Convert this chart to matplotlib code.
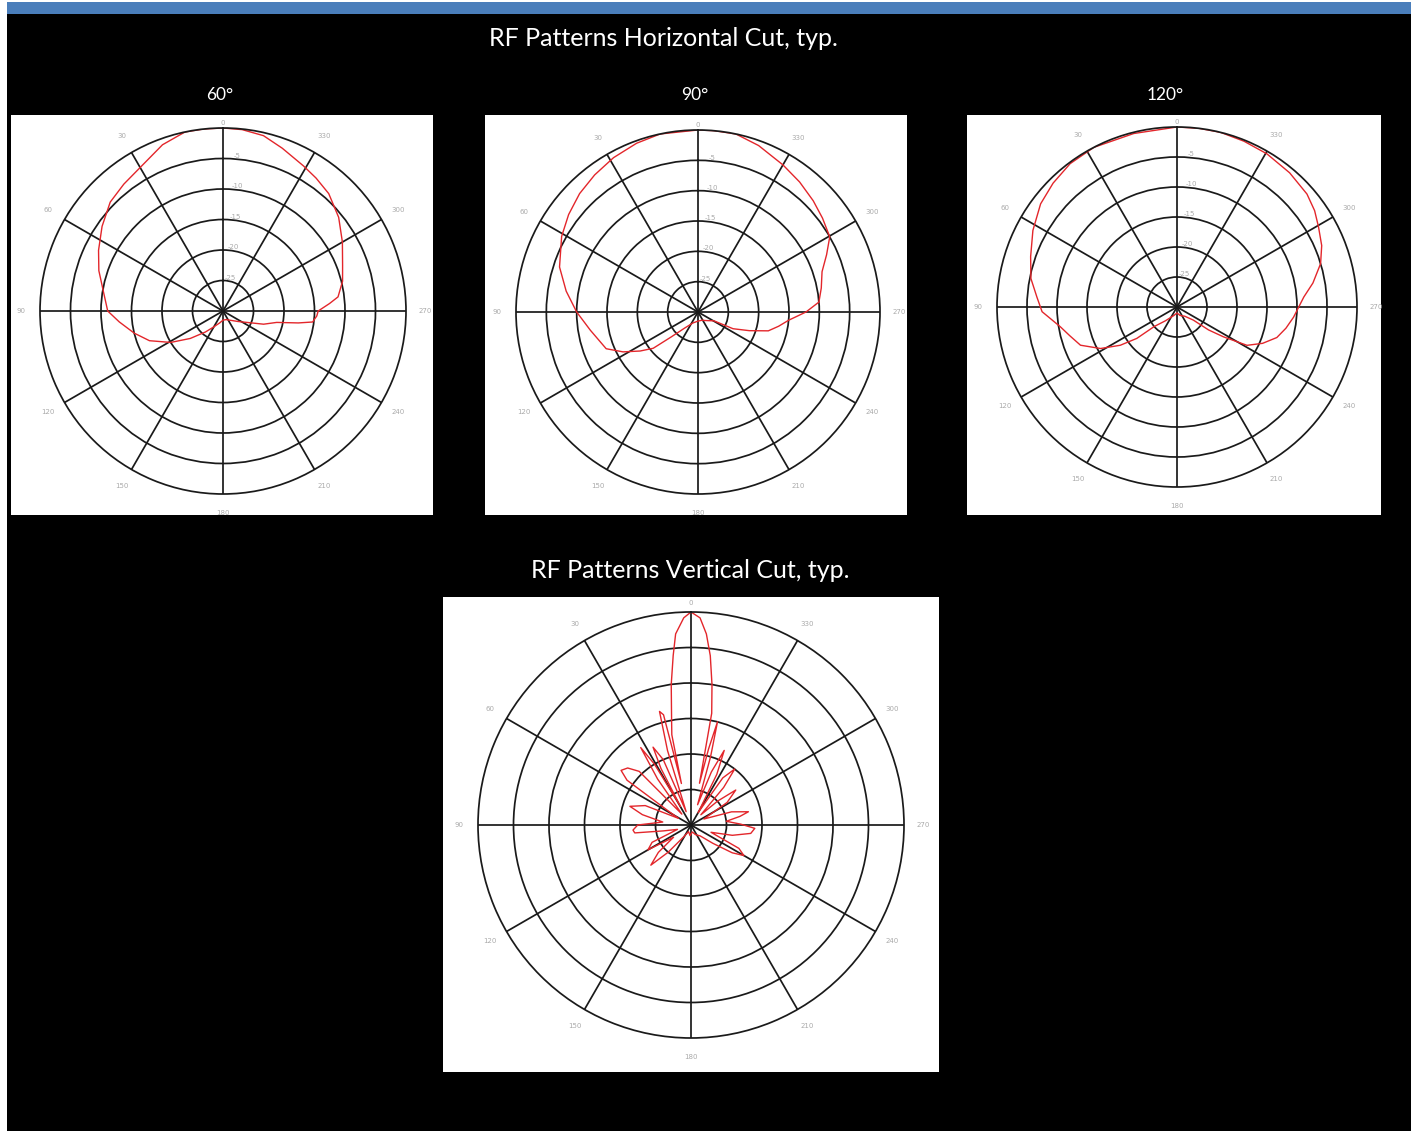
import numpy as np
import matplotlib
matplotlib.use('Agg')
import matplotlib.pyplot as plt
from matplotlib.patches import Rectangle

W, H = 1416, 1131

# angles in degrees (counter-clockwise from top), levels in dB
h60_deg = [0, 6, 12, 20, 29, 38, 46, 55, 64, 72, 82, 90, 96, 104, 112, 121, 130, 140, 150, 165,
           180, 200, 220, 235, 246, 252, 258, 261, 263, 267, 270, 274, 277, 284, 291, 300, 309,
           318, 325, 331, 340, 347, 354, 360]
h60_db = [0, 0, 0, -1, -2.7, -3.6, -4.3, -5.8, -7.3, -8.6, -10.3, -11.1, -12.9, -15, -17, -20, -23,
          -25.5, -27, -28, -28.5, -28.5, -28, -27, -25.3, -23, -21, -17.5, -15.2, -14.6, -14.4, -12.5,
          -11, -9.8, -9, -7.4, -5.6, -4.1, -3.4, -2.8, -1.6, -0.5, -0.1, 0]

h90_deg = [0, 12, 20, 28.7, 37, 45, 53, 61, 72, 81, 90, 99.6, 111.8, 118, 124, 129, 133, 140, 155,
           180, 205, 225, 241, 244.5, 250, 255, 260, 264.8, 270, 274.7, 281, 288, 294, 299.7, 307,
           314, 322, 330, 340, 348, 355, 360]
h90_db = [0, 0, -0.4, -1, -1.7, -2.4, -3.3, -4.3, -6, -8, -10, -12, -13.7, -16, -18.5, -20.5, -24,
          -26.5, -28, -28.5, -28.5, -28, -27, -23.6, -21, -18, -16.5, -15, -12.2, -10, -9.3, -8.5,
          -6.8, -5, -4.3, -3.6, -2.8, -2, -0.8, 0, 0, 0]

h120_deg = [0, 14, 27.5, 36.7, 45, 52.9, 62, 71, 79, 86, 92, 99.7, 105, 111.6, 118.5, 124, 128,
            130.6, 140, 160, 180, 200, 220, 231.3, 234, 237.3, 241.3, 247, 253, 259, 265, 274.5,
            280, 286.8, 293, 299.5, 305, 311, 320, 329.6, 338, 346, 353, 360]
h120_db = [0, -0.2, 0, -0.2, -0.8, -1.5, -2.8, -4.2, -5.2, -6.6, -7.5, -10.3, -11.5, -12.7, -15.5,
           -18.6, -21.5, -25, -27, -28.5, -29, -28.5, -28, -26.5, -23.5, -20.8, -16.7, -14.5, -12.6,
           -11.5, -10.5, -8.8, -7, -5, -3.8, -2.9, -2, -1.3, -0.8, -0.4, -0.2, 0, 0, 0]

vert_deg = [0, 2, 4.6, 6, 8, 10.5, 12, 13, 14, 15.5, 17.5, 20, 23, 26, 28, 29.5, 31, 33, 36, 40,
            44, 48, 52, 55, 58, 62, 67, 73, 78, 84, 90, 95, 98, 102, 108, 114, 120, 125, 130, 135,
            140, 148, 160, 175, 190, 205, 220, 230, 236, 240, 244, 250, 256, 262, 267, 271, 276,
            280, 283, 288, 295, 302, 308, 312, 316, 319, 322, 326, 330, 333, 336, 339, 342, 344,
            345.6, 347, 348.5, 349.5, 351.5, 353.5, 355.4, 357.5, 360]
vert_db = [0, -0.8, -3, -6, -10, -15, -17, -24, -14, -13.4, -19, -28, -20, -17.8, -21, -27, -20,
           -17, -22, -28, -19.5, -18, -17.5, -19, -26, -28, -23, -21, -23, -26, -22.5, -21.8, -22,
           -26, -28, -24, -23, -27, -24, -22, -25, -28, -29, -28.5, -29, -28.5, -28, -26, -23,
           -21.4, -22.5, -27, -24, -21.5, -21, -23, -25, -23, -21.7, -24, -28, -24, -22, -25, -28,
           -23, -20, -22, -28, -22, -18.5, -22, -27, -20, -15, -19, -24, -14, -10, -6, -3, -0.8, 0]

theta_ticks = list(range(0, 360, 30))
r_ticks = [-25, -20, -15, -10, -5]

fig = plt.figure(figsize=(W / 100, H / 100), dpi=100, facecolor='white')


def fx(x):
    return x / W


def fy(y):
    return 1 - y / H


def rect(x0, y0, x1, y1, color, z):
    fig.patches.append(Rectangle((fx(x0), fy(y1)), (x1 - x0) / W, (y1 - y0) / H,
                                 transform=fig.transFigure, facecolor=color,
                                 edgecolor='none', zorder=z))


# background, header bar and white chart boxes
rect(7, 14, 1411, 1131, 'black', -3)
rect(7, 2, 1411, 14, '#4a7ebb', -3)
rect(11, 115, 433, 515, 'white', -2)
rect(485, 115, 907, 515, 'white', -2)
rect(967, 115, 1381, 515, 'white', -2)
rect(443, 597, 939, 1072, 'white', -2)

tfont = ['Lato', 'DejaVu Sans']
fig.text(fx(663), fy(38), 'RF Patterns Horizontal Cut, typ.', color='white', fontsize=18,
         family=tfont, ha='center', va='center')
fig.text(fx(690), fy(571), 'RF Patterns Vertical Cut, typ.', color='white', fontsize=18,
         family=tfont, ha='center', va='center')
for x, s in [(220, '60°'), (695, '90°'), (1165, '120°')]:
    fig.text(fx(x), fy(95), s, color='white', fontsize=12.5, family=tfont,
             ha='center', va='center')


def polar_panel(cx, cy, r, deg, db, rlabels=True, top_gap=5):
    ax = fig.add_axes([fx(cx - r), fy(cy + r), 2 * r / W, 2 * r / H], projection='polar')
    ax.set_theta_zero_location('N')
    ax.set_theta_direction(1)
    ax.set_ylim(-30, 0)
    ax.set_facecolor('white')
    labels = ['' if a == 0 else str(a) for a in theta_ticks]
    ax.set_thetagrids(theta_ticks, labels=labels)
    ax.set_rgrids(r_ticks, labels=[str(v) for v in r_ticks] if rlabels else [''] * len(r_ticks))
    ax.set_rlabel_position(-4)
    ax.tick_params(axis='x', labelsize=5, labelcolor='#aaaaaa', pad=3)
    ax.tick_params(axis='y', labelsize=5, labelcolor='#aaaaaa')
    # the "0" direction label sits close to the outer ring
    ax.text(0, top_gap * 30 / r, '0', fontsize=5, color='#aaaaaa',
            ha='center', va='center', clip_on=False)
    ax.grid(True, color='#1a1a1a', lw=1.25)
    ax.spines['polar'].set_color('#1a1a1a')
    ax.spines['polar'].set_linewidth(1.25)
    ax.plot(np.deg2rad(deg), db, color='#e3262b', lw=1.0)
    return ax


polar_panel(223, 311, 183, h60_deg, h60_db)
polar_panel(698, 312, 182, h90_deg, h90_db)
polar_panel(1177, 307, 180, h120_deg, h120_db)
polar_panel(691, 825, 213, vert_deg, vert_db, rlabels=False, top_gap=9)

plt.savefig('out.png', dpi=100, facecolor=fig.get_facecolor())
plt.close()
